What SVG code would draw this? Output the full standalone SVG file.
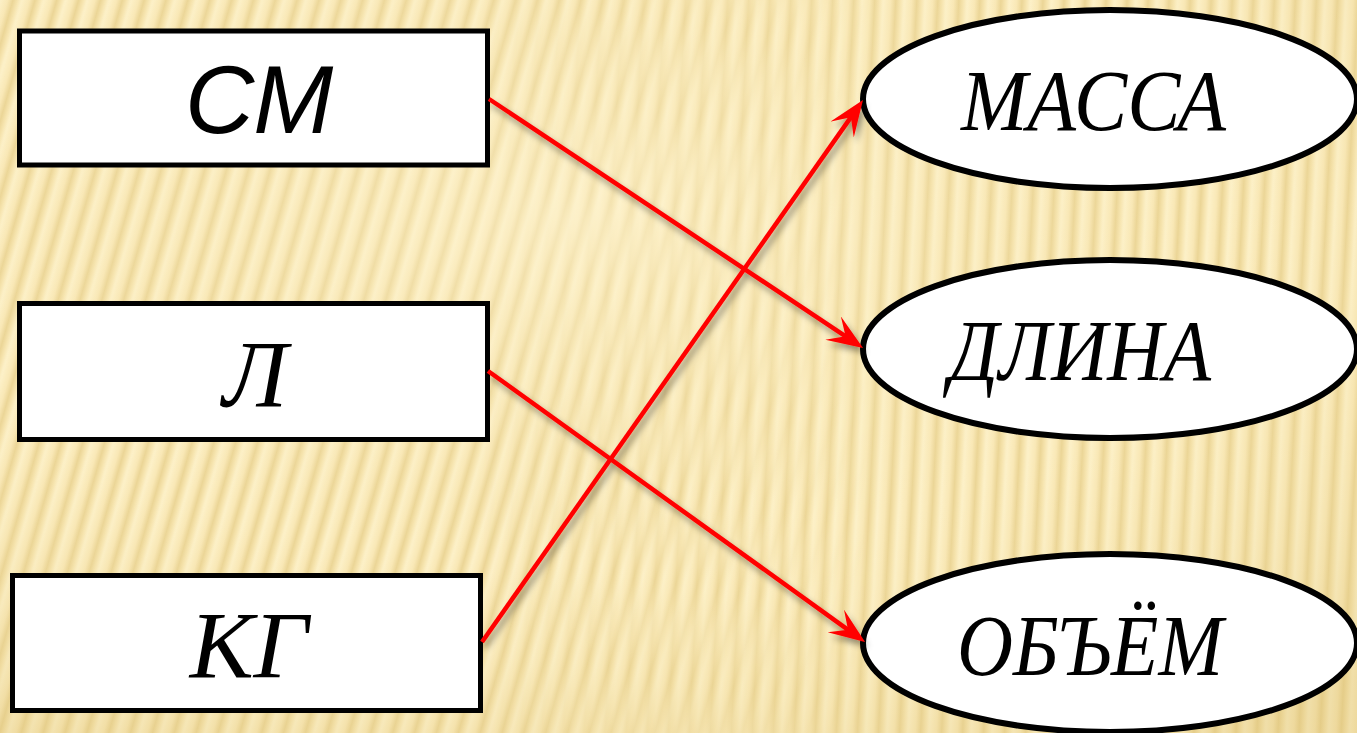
<svg xmlns="http://www.w3.org/2000/svg" width="1357" height="733" viewBox="0 0 1357 733">
  <defs>
    <linearGradient id="stripeGrad" x1="0" y1="0" x2="1" y2="0">
      <stop offset="0" stop-color="#fdf1c9"/>
      <stop offset="0.35" stop-color="#f9e8b6"/>
      <stop offset="0.6" stop-color="#ebd596"/>
      <stop offset="0.8" stop-color="#f6e4ae"/>
      <stop offset="1" stop-color="#fdf1c9"/>
    </linearGradient>
    <pattern id="stripesA" width="21" height="40" patternUnits="userSpaceOnUse" patternTransform="rotate(16)">
      <rect width="21" height="40" fill="url(#stripeGrad)"/>
    </pattern>
    <pattern id="stripesB" width="21" height="40" patternUnits="userSpaceOnUse" patternTransform="rotate(3)">
      <rect width="21" height="40" fill="url(#stripeGrad)"/>
    </pattern>
    <linearGradient id="blendMask" x1="0" y1="0" x2="1" y2="0">
      <stop offset="0.35" stop-color="#fff" stop-opacity="0"/>
      <stop offset="0.65" stop-color="#fff" stop-opacity="1"/>
    </linearGradient>
    <mask id="rightMask">
      <rect width="1357" height="733" fill="url(#blendMask)"/>
    </mask>
    <radialGradient id="vignette" cx="0.42" cy="0.3" r="0.85">
      <stop offset="0" stop-color="#fff6d6" stop-opacity="0.45"/>
      <stop offset="0.55" stop-color="#f3e2ac" stop-opacity="0"/>
      <stop offset="1" stop-color="#d9bd6e" stop-opacity="0.35"/>
    </radialGradient>
    <filter id="shadow" x="-10%" y="-10%" width="120%" height="120%">
      <feDropShadow dx="3" dy="5" stdDeviation="3" flood-color="#000" flood-opacity="0.4"/>
    </filter>
    <marker id="arrow" markerUnits="userSpaceOnUse" markerWidth="40" markerHeight="30" refX="16" refY="14" orient="auto">
      <path d="M0,0 L36,14 L0,28 L15,14 Z" fill="#ff0000"/>
    </marker>
    <style>
      .box { fill: #ffffff; stroke: #000000; stroke-width: 5; }
      .oval { fill: #ffffff; stroke: #000000; stroke-width: 6; }
      .sans { font-family: "Liberation Sans", Arial, sans-serif; font-style: italic; font-size: 96px; fill: #000; }
      .serif { font-family: "Liberation Serif", "Times New Roman", serif; font-style: italic; font-size: 96px; fill: #000; }
      .serifR { font-family: "Liberation Serif", "Times New Roman", serif; font-style: italic; font-size: 86px; fill: #000; }
      .conn { stroke: #ff0000; stroke-width: 4.5; fill: none; marker-end: url(#arrow); }
    </style>
  </defs>

  <g id="background">
    <rect width="1357" height="733" fill="url(#stripesA)"/>
    <rect width="1357" height="733" fill="url(#stripesB)" mask="url(#rightMask)"/>
    <rect width="1357" height="733" fill="url(#vignette)"/>
  </g>

  <g id="node-sm">
    <rect class="box" x="19.5" y="31" width="468" height="134"/>
    <text class="sans" x="259" y="133" text-anchor="middle">СМ</text>
  </g>
  <g id="node-l">
    <rect class="box" x="19.5" y="303.5" width="468" height="136"/>
    <text class="serif" x="255" y="407" text-anchor="middle">Л</text>
  </g>
  <g id="node-kg">
    <rect class="box" x="12.5" y="575.5" width="468" height="135"/>
    <text class="serif" x="249" y="678" text-anchor="middle">КГ</text>
  </g>

  <g id="node-massa">
    <ellipse class="oval" cx="1110" cy="99" rx="247" ry="89"/>
    <text class="serifR" x="961" y="130" textLength="265" lengthAdjust="spacingAndGlyphs">МАССА</text>
  </g>
  <g id="node-dlina">
    <ellipse class="oval" cx="1110" cy="349" rx="247" ry="89"/>
    <text class="serifR" x="949" y="380" textLength="262" lengthAdjust="spacingAndGlyphs">ДЛИНА</text>
  </g>
  <g id="node-obem">
    <ellipse class="oval" cx="1110" cy="643" rx="247" ry="89"/>
    <text class="serifR" x="957" y="675" textLength="266" lengthAdjust="spacingAndGlyphs">ОБЪЁМ</text>
  </g>

  <g id="connectors" filter="url(#shadow)">
    <line class="conn" x1="489" y1="99" x2="846.4" y2="336.9"/>
    <line class="conn" x1="488" y1="371" x2="848.8" y2="630.3"/>
    <line class="conn" x1="482" y1="642" x2="851.5" y2="116.4"/>
  </g>
</svg>
